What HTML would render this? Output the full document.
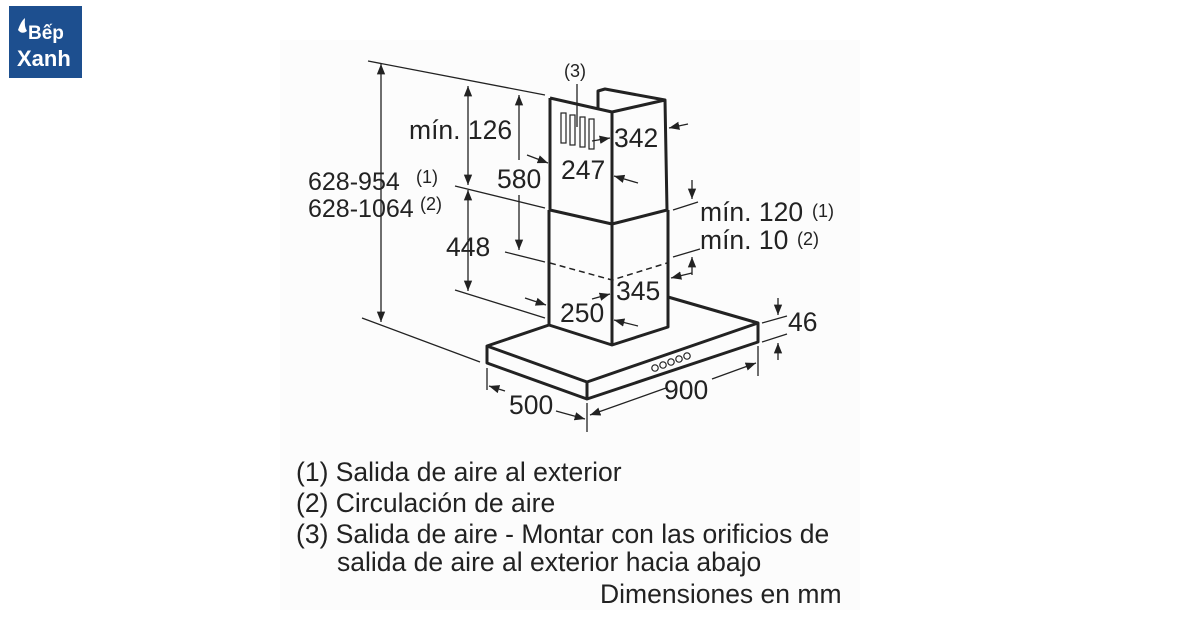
<!DOCTYPE html>
<html><head><meta charset="utf-8"><style>
html,body{margin:0;padding:0;background:#fff;width:1200px;height:628px;overflow:hidden}
svg text{font-family:"Liberation Sans",Arial,sans-serif;fill:#222}
</style></head><body>
<svg width="1200" height="628" viewBox="0 0 1200 628" xmlns="http://www.w3.org/2000/svg">
<defs><marker id="a" viewBox="0 0 10 10" refX="10" refY="5" markerWidth="8" markerHeight="8" orient="auto-start-reverse"><path d="M0,1 L10,5 L0,9 z" fill="#222"/></marker></defs>
<rect x="280" y="40" width="580" height="570" fill="#fcfcfc"/>
<rect x="9" y="6" width="73" height="72" fill="#1d4f8f"/>
<text x="28" y="39" font-size="19" font-weight="bold" style="fill:#fff">Bếp</text>
<path d="M18 30 q3 -9 7 -12 q-1 9 2 13 q-5 4 -9 -1z" fill="#fff"/>
<text x="17" y="66" font-size="22" font-weight="bold" style="fill:#fff">Xanh</text>

<g stroke="#222" fill="none" stroke-width="3" stroke-linejoin="round">
<path d="M550 98 L550 210 L612 224 L667 210 L665 100 L612 112 L550 98"/>
<path d="M598 108 L598 91 L605 89 L665 100"/>
<line x1="612" y1="112" x2="612" y2="224"/>
<path d="M549 210 L549 325 L612 345 L668 327 L668 210"/>
<line x1="612" y1="224" x2="612" y2="345"/>
<path d="M549 325 L487 346 L587 382 L758 323 L668 297"/>
<path d="M487 346 L487 363 L587 399 L758 342 L758 323"/>
<line x1="587" y1="382" x2="587" y2="399"/>
</g>
<path d="M550 263 L612 280 L667 263" stroke="#222" stroke-width="1.5" stroke-dasharray="6,4" fill="none"/>
<g fill="none" stroke="#222" stroke-width="1.2">
<rect x="561" y="113" width="5" height="30"/><rect x="570" y="115" width="5" height="30"/><rect x="580" y="117" width="5" height="30"/><rect x="589" y="119" width="5" height="30"/>
<circle cx="655" cy="368" r="3.2"/><circle cx="663" cy="365" r="3.2"/><circle cx="671" cy="362" r="3.2"/><circle cx="679" cy="359" r="3.2"/><circle cx="687" cy="356" r="3.2"/>
</g>
<g stroke="#222" stroke-width="1.3" fill="none">
<line x1="368" y1="61" x2="545" y2="95"/>
<line x1="362" y1="318" x2="480" y2="362"/>
<line x1="455" y1="186" x2="545" y2="208"/>
<line x1="505" y1="252" x2="545" y2="262"/>
<line x1="455" y1="290" x2="545" y2="318"/>
<line x1="487" y1="368" x2="487" y2="390"/>
<line x1="587" y1="403" x2="587" y2="432"/>
<line x1="758" y1="346" x2="758" y2="376"/>
<line x1="673" y1="210" x2="698" y2="202"/>
<line x1="673" y1="257" x2="700" y2="249"/>
<line x1="762" y1="323" x2="787" y2="316"/>
<line x1="762" y1="342" x2="787" y2="334"/>
<line x1="381" y1="64" x2="381" y2="322" marker-start="url(#a)" marker-end="url(#a)"/>
<line x1="468" y1="86" x2="468" y2="185" marker-start="url(#a)" marker-end="url(#a)"/>
<line x1="468" y1="190" x2="468" y2="291" marker-start="url(#a)" marker-end="url(#a)"/>
<line x1="519" y1="95" x2="519" y2="160" marker-start="url(#a)"/>
<line x1="519" y1="195" x2="519" y2="250" marker-end="url(#a)"/>
<line x1="527" y1="155" x2="548" y2="163" marker-end="url(#a)"/>
<line x1="638" y1="183" x2="614" y2="176" marker-end="url(#a)"/>
<line x1="592" y1="141" x2="610" y2="138" marker-end="url(#a)"/>
<line x1="688" y1="124" x2="669" y2="128" marker-end="url(#a)"/>
<line x1="525" y1="298" x2="546" y2="305" marker-end="url(#a)"/>
<line x1="638" y1="326" x2="614" y2="320" marker-end="url(#a)"/>
<line x1="592" y1="299" x2="610" y2="294" marker-end="url(#a)"/>
<line x1="692" y1="273" x2="671" y2="278" marker-end="url(#a)"/>
<line x1="692" y1="180" x2="692" y2="199" marker-end="url(#a)"/>
<line x1="692" y1="275" x2="692" y2="257" marker-end="url(#a)"/>
<line x1="778" y1="298" x2="778" y2="315" marker-end="url(#a)"/>
<line x1="778" y1="360" x2="778" y2="343" marker-end="url(#a)"/>
<line x1="505" y1="391" x2="489" y2="386" marker-end="url(#a)"/>
<line x1="556" y1="411" x2="585" y2="419" marker-end="url(#a)"/>
<line x1="666" y1="388" x2="590" y2="415" marker-end="url(#a)"/>
<line x1="712" y1="379" x2="756" y2="363" marker-end="url(#a)"/>
<line x1="577" y1="84" x2="577" y2="127"/>
</g>
<g font-size="26.5">
<text x="409" y="139">mín. 126</text>
<text x="497" y="188">580</text>
<text x="446" y="256">448</text>
<text x="614" y="147">342</text>
<text x="561" y="179">247</text>
<text x="616" y="300">345</text>
<text x="560" y="322">250</text>
<text x="700" y="221">mín. 120</text>
<text x="700" y="249">mín. 10</text>
<text x="788" y="331">46</text>
<text x="509" y="414">500</text>
<text x="664" y="399">900</text>
</g>
<g font-size="25">
<text x="308" y="190">628-954</text>
<text x="308" y="217">628-1064</text>
</g>
<g font-size="18">
<text x="564" y="77">(3)</text>
<text x="416" y="183">(1)</text>
<text x="420" y="210">(2)</text>
<text x="812" y="217">(1)</text>
<text x="797" y="245">(2)</text>
</g>
<g font-size="26.5">
<text x="296" y="481">(1) Salida de aire al exterior</text>
<text x="296" y="512">(2) Circulación de aire</text>
<text x="296" y="543">(3) Salida de aire - Montar con las orificios de</text>
<text x="337" y="571">salida de aire al exterior hacia abajo</text>
<text x="600" y="603">Dimensiones en mm</text>
</g>
</svg>
</body></html>
